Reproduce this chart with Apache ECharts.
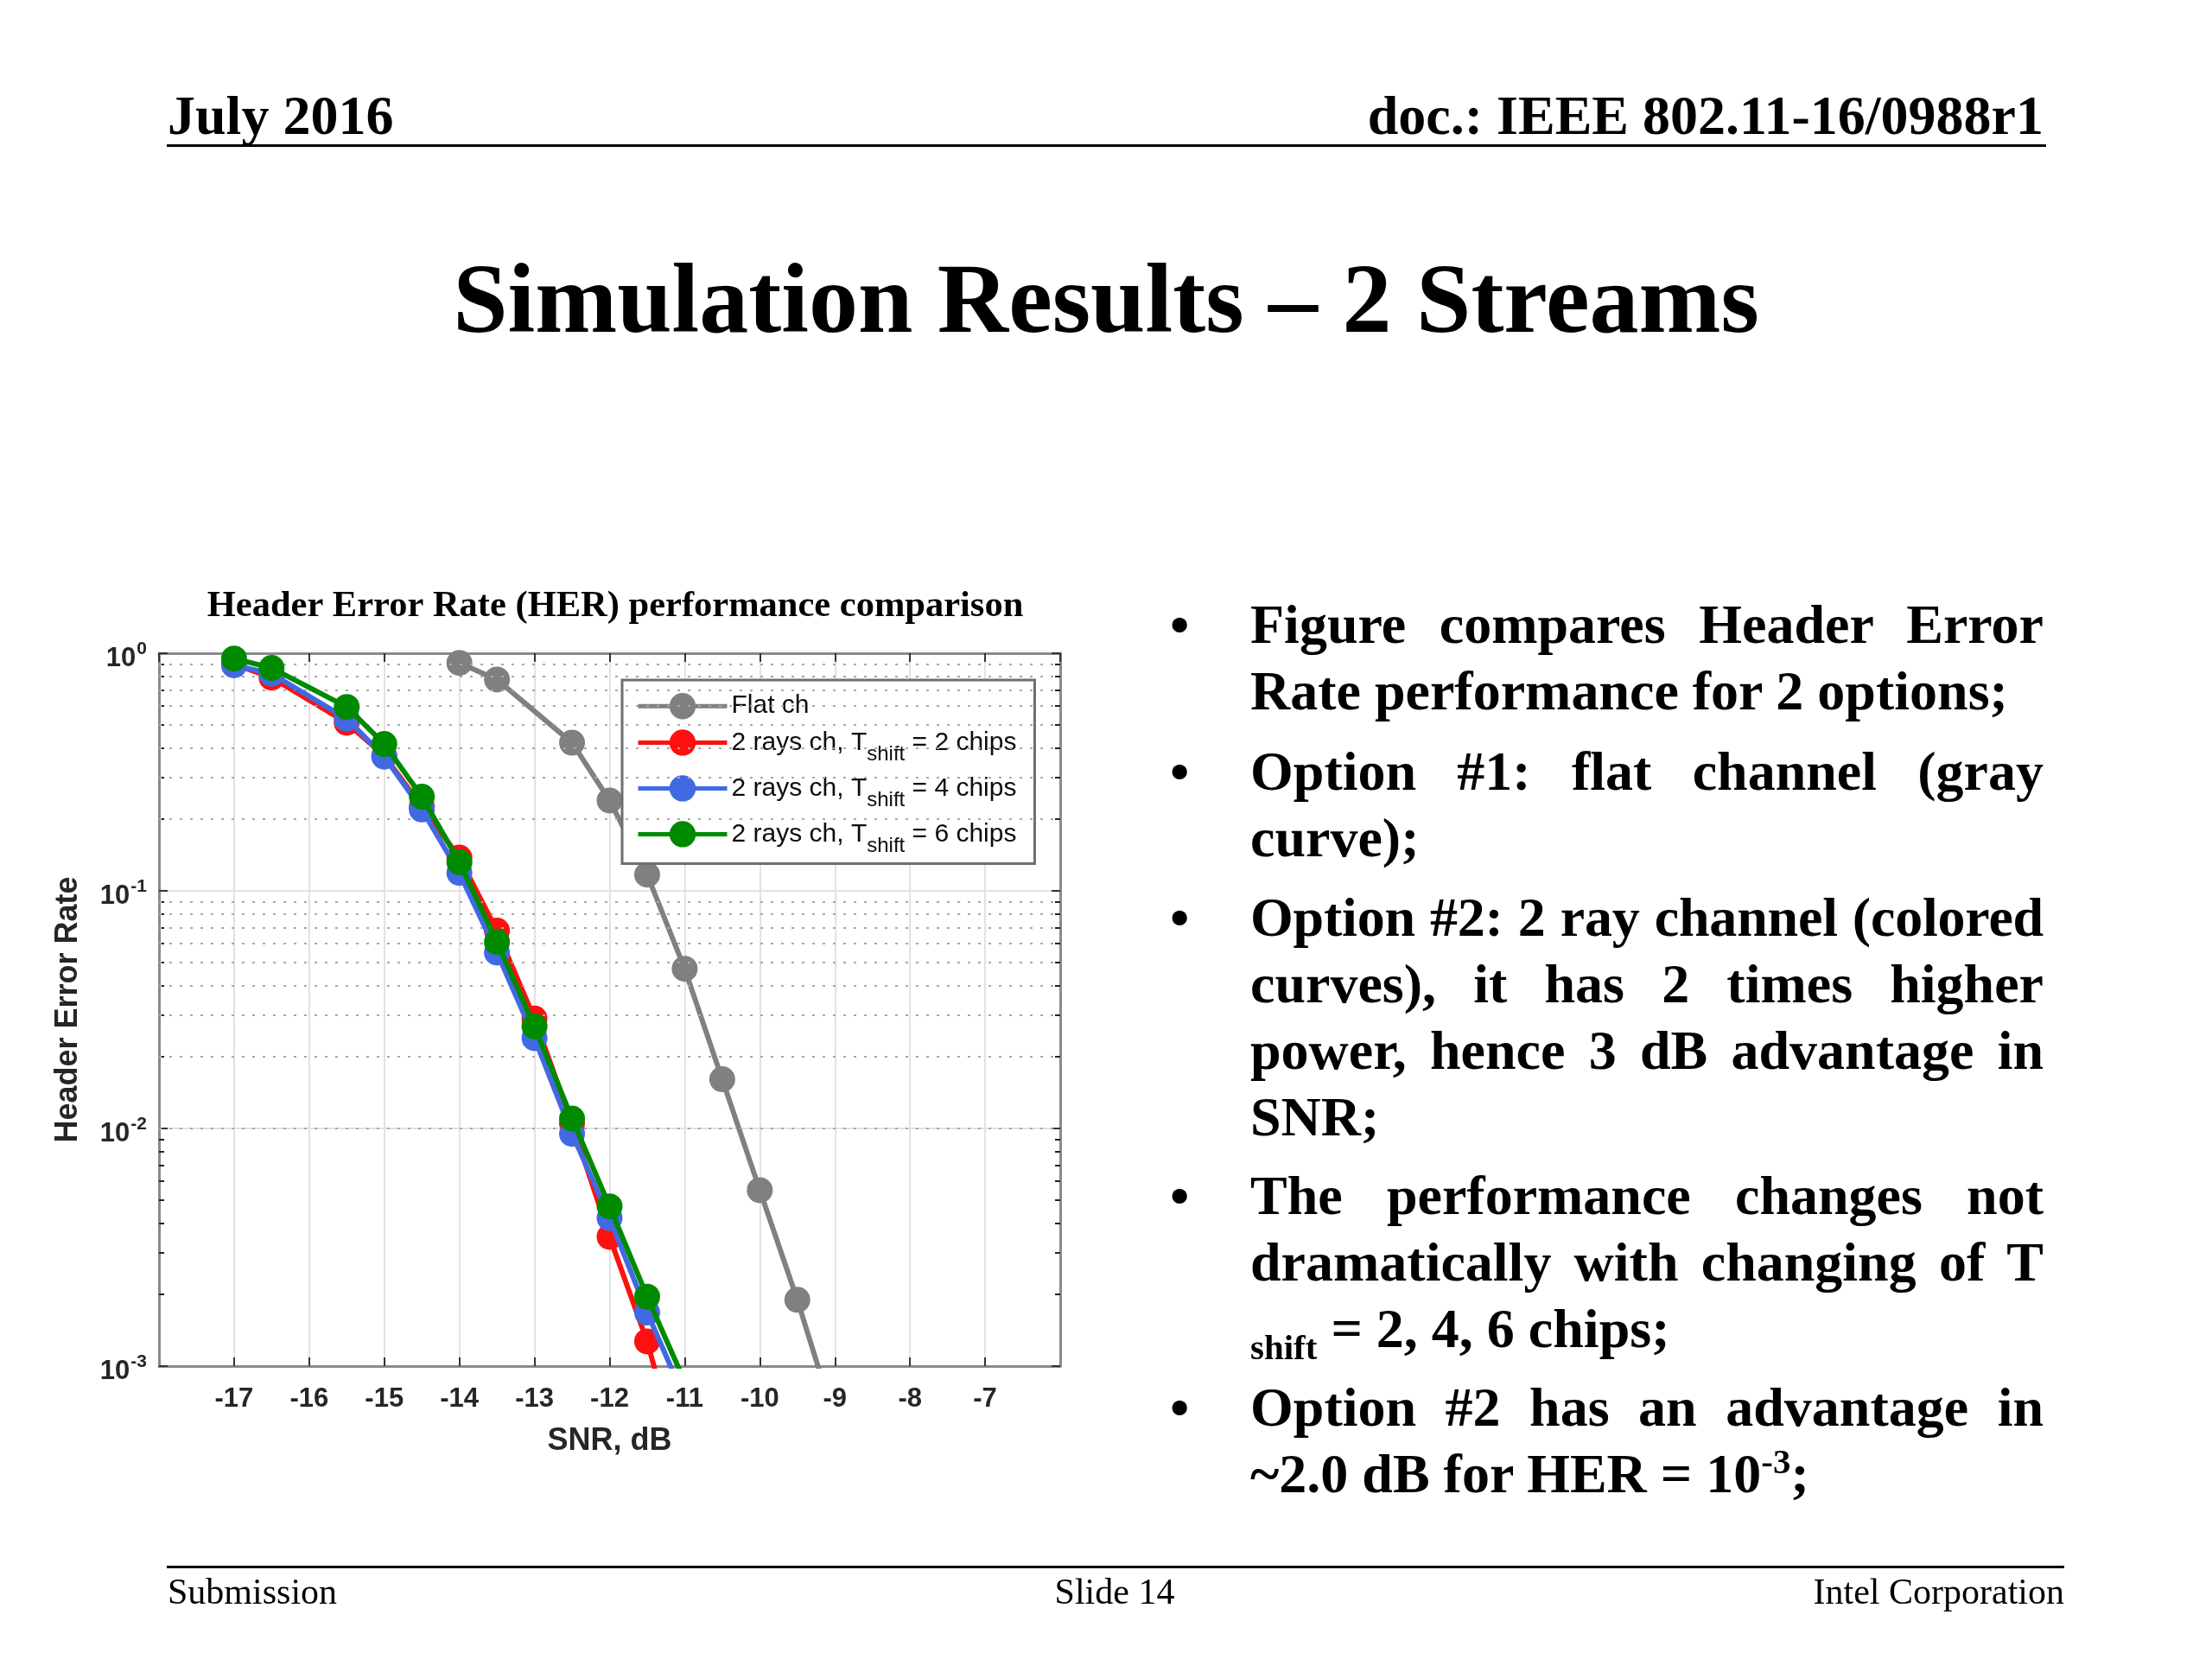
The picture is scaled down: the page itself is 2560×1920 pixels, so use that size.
<!DOCTYPE html>
<html>
<head>
<meta charset="utf-8">
<script src="https://cdn.jsdelivr.net/npm/echarts@6/dist/echarts.min.js"></script>
<style>
  html, body { margin: 0; padding: 0; background: #ffffff; }
  #page { position: relative; width: 2560px; height: 1920px; overflow: hidden; background: #fff; }
  #chart { position: absolute; left: 0; top: 0; width: 2560px; height: 1920px; }
  .txt { position: absolute; font-family: 'Liberation Serif', 'Times New Roman', serif; color: #000; white-space: nowrap; }
  .bold { font-weight: bold; }
  .rule { position: absolute; background: #000; }
  .para { position: absolute; left: 1447px; width: 918px; font-family: 'Liberation Serif', 'Times New Roman', serif; font-weight: bold; font-size: 64px; line-height: 77px; color: #000; }
  .para .ln { display: block; text-align: justify; text-align-last: justify; white-space: normal; }
  .para .last { display: block; text-align: left; }
  .bullet { position: absolute; left: 1354px; font-family: 'Liberation Serif', serif; font-weight: bold; font-size: 64px; line-height: 77px; }
  sub, sup { line-height: 0; font-size: 0.64em; }
</style>
</head>
<body>
<div id="page">
  <div id="chart"></div>

  <div class="txt bold" style="left:194px; top:102px; font-size:64px; line-height:64px;">July 2016</div>
  <div class="txt bold" style="right:195px; top:102px; font-size:64px; line-height:64px;">doc.: IEEE 802.11-16/0988r1</div>
  <div class="rule" style="left:193px; top:167px; width:2175px; height:3px;"></div>

  <div class="txt bold" style="left:0; width:2560px; text-align:center; top:289px; font-size:114px; line-height:114px;">Simulation Results – 2 Streams</div>

  <div class="bullet" style="top:684px;">•</div>
  <div class="para" style="top:684px;">
    <span class="ln">Figure compares Header Error</span>
    <span class="last">Rate performance for 2 options;</span>
  </div>

  <div class="bullet" style="top:854px;">•</div>
  <div class="para" style="top:854px;">
    <span class="ln">Option #1: flat channel (gray</span>
    <span class="last">curve);</span>
  </div>

  <div class="bullet" style="top:1023px;">•</div>
  <div class="para" style="top:1023px;">
    <span class="ln" style="letter-spacing:-0.2px;">Option #2: 2 ray channel (colored</span>
    <span class="ln">curves), it has 2 times higher</span>
    <span class="ln">power, hence 3 dB advantage in</span>
    <span class="last">SNR;</span>
  </div>

  <div class="bullet" style="top:1345px;">•</div>
  <div class="para" style="top:1345px;">
    <span class="ln">The performance changes not</span>
    <span class="ln">dramatically with changing of T</span>
    <span class="last"><sub>shift</sub> = 2, 4, 6 chips;</span>
  </div>

  <div class="bullet" style="top:1590px;">•</div>
  <div class="para" style="top:1590px;">
    <span class="ln">Option #2 has an advantage in</span>
    <span class="last">~2.0 dB for HER = 10<sup>-3</sup>;</span>
  </div>

  <div class="rule" style="left:193px; top:1812px; width:2196px; height:3px;"></div>
  <div class="txt" style="left:194px; top:1821px; font-size:42px; line-height:42px;">Submission</div>
  <div class="txt" style="left:1090px; width:400px; text-align:center; top:1821px; font-size:42px; line-height:42px;">Slide 14</div>
  <div class="txt" style="right:171px; top:1821px; font-size:42px; line-height:42px;">Intel Corporation</div>
</div>

<script>
// ---------------- data ----------------
const xTicks = [-17, -16, -15, -14, -13, -12, -11, -10, -9, -8, -7];
const yTicks = [0.001, 0.01, 0.1, 1];
const yMinor = [0.002, 0.003, 0.004, 0.005, 0.006, 0.007, 0.008, 0.009,
                0.02, 0.03, 0.04, 0.05, 0.06, 0.07, 0.08, 0.09,
                0.2, 0.3, 0.4, 0.5, 0.6, 0.7, 0.8, 0.9];

const flatSnr = [-14, -13.5, -12.5, -12, -11.5, -11, -10.5, -10, -9.5, -9];
const flatHer = [0.91, 0.775, 0.42, 0.24, 0.117, 0.047, 0.0161, 0.0055, 0.0019, 0.00059];

const raysSnr = [-17, -16.5, -15.5, -15, -14.5, -14, -13.5, -13, -12.5, -12, -11.5, -11];
const her2chips = [0.90, 0.79, 0.51, 0.37, 0.226, 0.138, 0.068, 0.029, 0.0105, 0.0035, 0.00127, 0.00034];
const her4chips = [0.89, 0.82, 0.53, 0.367, 0.22, 0.119, 0.055, 0.024, 0.0095, 0.0042, 0.00168, 0.00073];
const her6chips = [0.95, 0.867, 0.594, 0.415, 0.249, 0.132, 0.061, 0.0269, 0.011, 0.0047, 0.00196, 0.00086];

const seriesNames = ['Flat ch', '2 rays ch, T_shift = 2 chips', '2 rays ch, T_shift = 4 chips', '2 rays ch, T_shift = 6 chips'];
const legendLabels = {
  'Flat ch': '{a|Flat ch}',
  '2 rays ch, T_shift = 2 chips': '{a|2 rays ch, T}{sub|shift}{a| = 2 chips}',
  '2 rays ch, T_shift = 4 chips': '{a|2 rays ch, T}{sub|shift}{a| = 4 chips}',
  '2 rays ch, T_shift = 6 chips': '{a|2 rays ch, T}{sub|shift}{a| = 6 chips}'
};
const chartTitle = 'Header Error Rate (HER) performance comparison';
const xName = 'SNR, dB';
const yName = 'Header Error Rate';
// ------------------------------------------------------------------------

function zip(xs, ys) { return xs.map((x, i) => [x, ys[i]]); }

const SANS = "'Liberation Sans', Arial, Helvetica, sans-serif";
const SERIF = "'Liberation Serif', 'Times New Roman', serif";
const AXIS_COLOR = '#8a8a8a';

const chart = echarts.init(document.getElementById('chart'), null, { renderer: 'canvas' });

function lineSeries(name, xs, ys, color, z) {
  return {
    name: name, type: 'line', data: zip(xs, ys),
    xAxisIndex: 0, yAxisIndex: 0,
    symbol: 'circle', symbolSize: 30, showSymbol: true,
    lineStyle: { color: color, width: 6 },
    itemStyle: { color: color },
    clip: true, z: z, animation: false,
    emphasis: { disabled: true }
  };
}

const option = {
  backgroundColor: 'transparent',
  animation: false,
  title: {
    text: chartTitle,
    left: 707, top: 676, textAlign: 'center',
    textStyle: { fontFamily: SERIF, fontWeight: 'bold', fontSize: 42.5, lineHeight: 42, color: '#000' }
  },
  legend: {
    data: seriesNames,
    orient: 'vertical',
    left: 720, top: 787,
    padding: [15, 21, 8, 16],
    itemGap: 1,
    itemWidth: 103, itemHeight: 38,
    backgroundColor: '#ffffff',
    borderColor: '#6e6e6e', borderWidth: 3, borderRadius: 0,
    selectedMode: false,
    lineStyle: { width: 5 },
    formatter: function (n) { return legendLabels[n]; },
    textStyle: {
      fontFamily: SANS, fontSize: 30, color: '#0d0d0d',
      rich: {
        a: { fontFamily: SANS, fontSize: 30, lineHeight: 34, color: '#0d0d0d' },
        sub: { fontFamily: SANS, fontSize: 24, lineHeight: 24, color: '#0d0d0d', padding: [28, 0, 0, 0] }
      }
    }
  },
  grid: { left: 184, top: 756, width: 1043, height: 825, containLabel: false },
  xAxis: [
    {
      type: 'value', position: 'bottom', min: -18, max: -6, interval: 1,
      name: xName, nameLocation: 'middle', nameGap: 69,
      nameTextStyle: { fontFamily: SANS, fontWeight: 'bold', fontSize: 36, color: '#262626' },
      axisLine: { show: true, onZero: false, lineStyle: { color: AXIS_COLOR, width: 3 } },
      axisTick: { show: true, inside: true, length: 10, lineStyle: { color: '#333', width: 2 } },
      axisLabel: {
        show: true, margin: 23, showMinLabel: false, showMaxLabel: false,
        fontFamily: SANS, fontWeight: 'bold', fontSize: 31, color: '#262626',
        formatter: function (v) { return xTicks.indexOf(v) >= 0 ? String(v) : ''; }
      },
      splitLine: { show: true, lineStyle: { color: '#e2e2e2', width: 2 } }
    },
    {
      type: 'value', position: 'top', min: -18, max: -6, interval: 1,
      axisLine: { show: true, onZero: false, lineStyle: { color: AXIS_COLOR, width: 3 } },
      axisTick: { show: true, inside: true, length: 10, lineStyle: { color: '#333', width: 2 } },
      axisLabel: { show: false },
      splitLine: { show: false }
    }
  ],
  yAxis: [
    {
      type: 'log', logBase: 10, position: 'left', min: 0.001, max: 1,
      name: yName, nameLocation: 'middle', nameGap: 87, nameRotate: 90,
      nameTextStyle: { fontFamily: SANS, fontWeight: 'bold', fontSize: 36, color: '#262626' },
      axisLine: { show: true, onZero: false, lineStyle: { color: AXIS_COLOR, width: 3 } },
      axisTick: { show: true, inside: true, length: 10, lineStyle: { color: '#333', width: 2 } },
      axisLabel: {
        show: true, margin: 14, padding: [12, 0, 0, 0],
        formatter: function (v) {
          const e = Math.round(Math.log10(v));
          return '{b|10}{s|' + e + '}';
        },
        rich: {
          b: { fontFamily: SANS, fontWeight: 'bold', fontSize: 31, lineHeight: 36, color: '#262626' },
          s: { fontFamily: SANS, fontWeight: 'bold', fontSize: 21, lineHeight: 21, color: '#262626', padding: [0, 0, 22, 1] }
        }
      },
      splitLine: { show: true, lineStyle: { color: '#e2e2e2', width: 2 } }
    },
    {
      type: 'log', logBase: 10, position: 'right', min: 0.001, max: 1,
      axisLine: { show: true, onZero: false, lineStyle: { color: AXIS_COLOR, width: 3 } },
      axisTick: { show: true, inside: true, length: 10, lineStyle: { color: '#333', width: 2 } },
      axisLabel: { show: false },
      splitLine: { show: false }
    },
    {
      type: 'log', logBase: 10, position: 'left', min: 0.001, max: 1,
      axisLine: { show: false },
      axisTick: { show: true, inside: true, length: 6, customValues: yMinor, lineStyle: { color: '#222', width: 2 } },
      axisLabel: { show: false },
      splitLine: { show: false }
    },
    {
      type: 'log', logBase: 10, position: 'right', min: 0.001, max: 1,
      axisLine: { show: false },
      axisTick: { show: true, inside: true, length: 6, customValues: yMinor, lineStyle: { color: '#222', width: 2 } },
      axisLabel: { show: false },
      splitLine: { show: false }
    }
  ],
  series: [
    {
      name: 'minor-grid', type: 'line', data: [], xAxisIndex: 0, yAxisIndex: 0, z: 1,
      silent: true, animation: false,
      markLine: {
        silent: true, animation: false, symbol: ['none', 'none'],
        label: { show: false },
        lineStyle: { type: [3, 9], color: '#a8a8a8', width: 2 },
        emphasis: { disabled: true },
        data: yMinor.map(function (v) { return { yAxis: v }; })
      }
    },
    lineSeries(seriesNames[0], flatSnr, flatHer, '#808080', 3),
    lineSeries(seriesNames[1], raysSnr, her2chips, '#ff1010', 4),
    lineSeries(seriesNames[2], raysSnr, her4chips, '#4169e1', 5),
    lineSeries(seriesNames[3], raysSnr, her6chips, '#008a00', 6)
  ]
};

chart.setOption(option);
</script>
</body>
</html>
